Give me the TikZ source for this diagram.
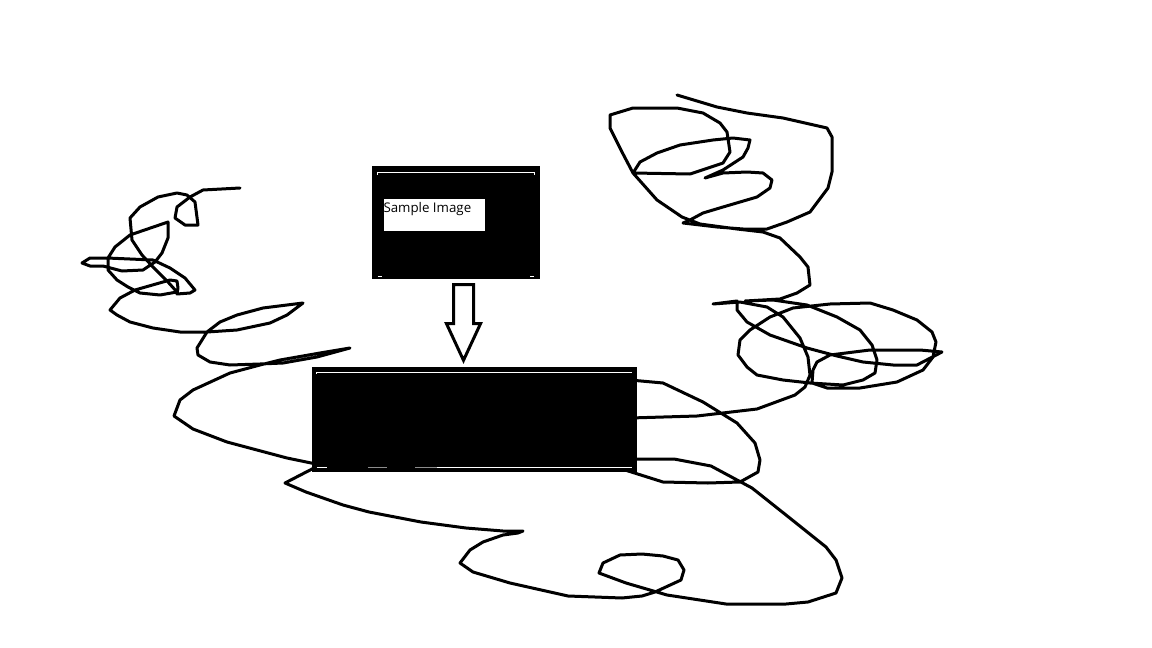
\documentclass[tikz,border=0pt]{standalone}
\usepackage{fontspec}
\setsansfont{Open Sans}
\usetikzlibrary{positioning, calc}

\begin{document}
\begin{tikzpicture}[
    x=1pt, y=-1pt,
    font=\sffamily,
    % Freehand pen stroke
    scribble/.style={
        draw=black, line width=3pt,
        line join=round, line cap=round
    },
    % Black image panels
    panel/.style={
        rectangle, fill=black, draw=none,
        inner sep=0pt
    },
    % White caption box
    tag/.style={
        rectangle, fill=white, draw=none,
        inner sep=0pt,
        minimum width=101pt, minimum height=32pt
    },
    % Thin highlight lines on the panels
    glint/.style={draw=white, line width=1.3pt},
    % Hollow block arrow
    hollow/.style={draw=black, fill=white, line width=3pt, line join=miter}
]

% Canvas
\useasboundingbox (0,0) rectangle (1152,648);
\fill[white] (0,0) rectangle (1152,648);

% Scribble (one stroke, runs under the panels)
\draw[scribble] (240,188) -- (203,190) -- (190,197) -- (177,207) -- (175,218) -- (185,225)
    -- (198,225) -- (195,202) -- (187,195) -- (177,193) -- (158,197) -- (140,207) -- (130,218)
    -- (132,240) -- (142,255) -- (153,267) -- (168,282) -- (177,292) -- (160,295) -- (140,293)
    -- (128,287) -- (117,280) -- (108,270) -- (108,258) -- (115,247) -- (130,235) -- (168,222)
    -- (168,238) -- (162,253) -- (155,262) -- (143,270) -- (122,271) -- (103,266) -- (90,266)
    -- (82,263) -- (90,258) -- (107,258) -- (153,260) -- (170,268) -- (185,278) -- (195,290)
    -- (190,293) -- (177,294) -- (178,288) -- (177,281) -- (170,280) -- (135,290) -- (120,298)
    -- (110,310) -- (117,315) -- (130,322) -- (153,328) -- (180,332) -- (207,332) -- (237,330)
    -- (270,323) -- (287,315) -- (303,303) -- (263,308) -- (237,315) -- (220,322) -- (207,332)
    -- (197,348) -- (198,355) -- (210,362) -- (230,365) -- (260,364) -- (283,363) -- (317,357)
    -- (350,348) -- (320,353) -- (280,360) -- (260,365) -- (230,373) -- (193,390) -- (180,400)
    -- (174,416) -- (193,429) -- (227,442) -- (287,458) -- (316,464) -- (314,468) -- (285,483)
    -- (306,492) -- (343,505) -- (369,512) -- (421,522) -- (466,528) -- (503,531) -- (523,531)
    -- (518,533) -- (503,535) -- (483,542) -- (470,550) -- (460,563) -- (473,572) -- (510,583)
    -- (568,596) -- (622,598) -- (642,596) -- (655,592) -- (681,580) -- (684,570) -- (678,560)
    -- (663,556) -- (642,554) -- (620,555) -- (603,563) -- (599,573) -- (626,583) -- (667,595)
    -- (726,604) -- (786,604) -- (808,602) -- (836,593) -- (842,578) -- (836,560) -- (826,547)
    -- (786,515) -- (752,488) -- (711,466) -- (674,459) -- (630,459) -- (625,470) -- (663,482)
    -- (708,483) -- (740,482) -- (758,472) -- (760,460) -- (755,443) -- (737,423) -- (703,402)
    -- (663,383) -- (630,380) -- (630,418) -- (697,416) -- (757,409) -- (795,395) -- (805,387)
    -- (810,375) -- (808,357) -- (800,338) -- (783,317) -- (767,307) -- (740,302) -- (713,304)
    -- (737,301) -- (737,310) -- (747,322) -- (770,335) -- (807,348) -- (837,356) -- (863,362)
    -- (893,365) -- (917,365) -- (942,352) -- (920,350) -- (870,350) -- (830,355) -- (817,362)
    -- (813,370) -- (812,383) -- (827,388) -- (860,388) -- (897,382) -- (923,370) -- (933,357)
    -- (936,342) -- (932,332) -- (917,320) -- (893,310) -- (870,303) -- (830,304) -- (793,308)
    -- (770,317) -- (750,330) -- (740,340) -- (738,355) -- (747,367) -- (757,375) -- (783,380)
    -- (810,383) -- (843,385) -- (863,380) -- (875,373) -- (877,360) -- (872,345) -- (860,330)
    -- (837,317) -- (807,305) -- (773,300) -- (745,301) -- (780,299) -- (797,293) -- (810,285)
    -- (808,267) -- (800,257) -- (780,238) -- (763,232) -- (737,229) -- (700,224) -- (682,217)
    -- (657,200) -- (633,173) -- (622,152) -- (610,128) -- (610,115) -- (633,108) -- (677,108)
    -- (703,113) -- (720,123) -- (727,132) -- (730,152) -- (723,163) -- (690,174) -- (633,173)
    -- (640,162) -- (657,153) -- (680,145) -- (713,140) -- (733,138) -- (750,140) -- (748,148)
    -- (743,157) -- (723,170) -- (705,178) -- (723,173) -- (747,172) -- (763,173) -- (772,180)
    -- (770,188) -- (757,197) -- (723,207) -- (703,213) -- (690,220) -- (683,223) -- (717,227)
    -- (743,229) -- (767,229) -- (787,222) -- (810,212) -- (828,188) -- (832,172) -- (832,137)
    -- (827,128) -- (783,118) -- (747,113) -- (717,107) -- (677,95);

% Source panel
\node[panel, minimum width=168pt, minimum height=113pt] (sample) at (456,222.5) {};
\node[tag, anchor=north west] (caption) at ([shift={(12,33)}]sample.north west) {};
\node[anchor=base west, inner sep=0pt, font=\sffamily\fontsize{13.3}{16}\selectfont]
    (captiontext) at ([shift={(-0.5,14)}]caption.north west) {Sample Image};
\draw[glint] ([shift={(5,6.5)}]sample.north west) -- ([shift={(-5,6.5)}]sample.north east);
\draw[glint] ([shift={(6,6.5)}]sample.north west) -- ++(0,2.5);
\draw[glint] ([shift={(-6,6.5)}]sample.north east) -- ++(0,2.5);
\draw[glint] ([shift={(6,-2.5)}]sample.south west) -- ++(4,0);
\draw[glint] ([shift={(-6,-2.5)}]sample.south east) -- ++(-4,0);

% Target panel
\node[panel, minimum width=325pt, minimum height=105pt] (target) at (474.5,419.5) {};
\draw[glint] ([shift={(5,5.5)}]target.north west) -- ([shift={(-5,5.5)}]target.north east);
\draw[glint] ([shift={(5,5.5)}]target.north west) -- ++(0,2);
\draw[glint] ([shift={(5,-5)}]target.south west) -- ++(10,0);
\draw[glint, draw=black!45] ([shift={(56,-5)}]target.south west) -- ++(19,0);
\draw[glint, draw=black!45] ([shift={(103,-5)}]target.south west) -- ++(22,0);
\draw[glint] ([shift={(125,-5)}]target.south west) -- ([shift={(-5,-5)}]target.south east);

% Arrow from source to target
\coordinate (tail) at ([shift={(7.5,0)}]sample.south);
\coordinate (tip) at ($(tail |- target.north)+(0,-6.5)$);
\draw[hollow] ([shift={(-10,5.5)}]tail) -- ([shift={(-10,44.5)}]tail)
    -- ([shift={(-17,44.5)}]tail) -- (tip) -- ([shift={(17,44.5)}]tail)
    -- ([shift={(10,44.5)}]tail) -- ([shift={(10,5.5)}]tail) -- cycle;

\end{tikzpicture}
\end{document}
